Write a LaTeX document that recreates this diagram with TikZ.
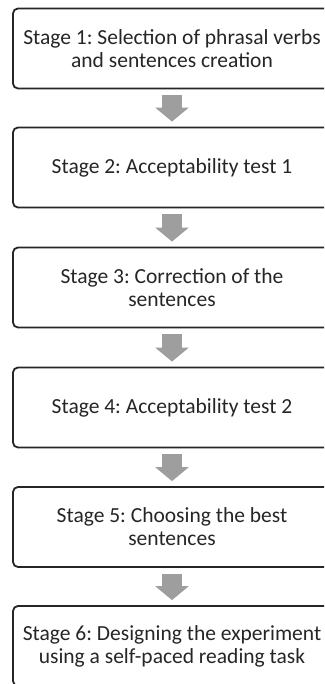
\documentclass[tikz,border=0pt]{standalone}
\usepackage{fontspec}
\setmainfont{Carlito}
\usepackage{xcolor}
\usepackage{tikz}
\usetikzlibrary{arrows.meta}
\frenchspacing

\begin{document}
\begin{tikzpicture}[x=1pt, y=1pt,
  stagebox/.style={draw=black!85, line width=1.8pt, rectangle, rounded corners=5pt, fill=white, minimum width=318pt, minimum height=80pt, align=center, text=black!85, font=\fontsize{21.5}{23}\selectfont},
  flow/.style={draw=black!38, line width=20pt, -{Triangle[width=33pt, length=14pt]}, shorten <=6pt, shorten >=5pt}]
\clip (0,0) rectangle (324,684);
\fill[white] (0,0) rectangle (324,684);
\node[stagebox] (stage1) at (172,635.5) {Stage 1: Selection of phrasal verbs\\and sentences creation};
\node[stagebox] (stage2) at (172,516.5) {Stage 2: Acceptability test 1};
\node[stagebox] (stage3) at (172,396.5) {Stage 3: Correction of the\\sentences};
\node[stagebox] (stage4) at (172,276.5) {Stage 4: Acceptability test 2};
\node[stagebox] (stage5) at (172,157) {Stage 5: Choosing the best\\sentences};
\node[stagebox] (stage6) at (172,38) {Stage 6: Designing the experiment\\using a self-paced reading task};

\draw[flow] (stage1) -- (stage2);
\draw[flow] (stage2) -- (stage3);
\draw[flow] (stage3) -- (stage4);
\draw[flow] (stage4) -- (stage5);
\draw[flow] (stage5) -- (stage6);
\end{tikzpicture}
\end{document}
